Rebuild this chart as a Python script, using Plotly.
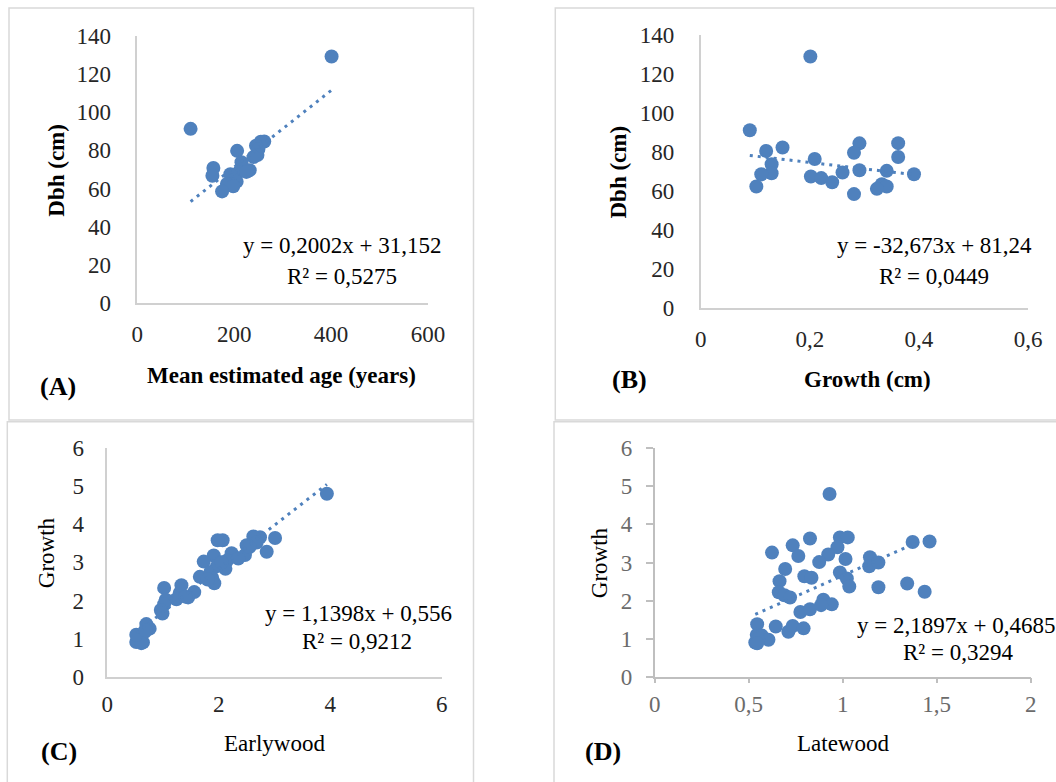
import plotly.graph_objects as go

# ---------------- data ----------------
# Panel A: Dbh vs mean estimated age
age_A = [401, 110, 262, 255, 245, 250, 206, 248, 240, 215, 157, 220, 232, 228,
         210, 225, 192, 155, 200, 205, 195, 185, 198, 175]
dbh_A = [129, 91.2, 84.6, 84.5, 82.4, 80.6, 79.7, 77.5, 76.5, 73.8, 70.7, 70.4,
         69.6, 69.2, 68.7, 68.7, 67.5, 66.7, 64.6, 63.6, 62.4, 62.4, 61.2, 58.5]

# Panel B: Dbh vs growth (cm)
growth_B = [0.201, 0.090, 0.362, 0.291, 0.150, 0.120, 0.281, 0.362, 0.209, 0.130,
            0.341, 0.291, 0.260, 0.130, 0.111, 0.391, 0.202, 0.221, 0.241, 0.332,
            0.102, 0.341, 0.323, 0.281]
dbh_B = [129, 91.2, 84.6, 84.5, 82.4, 80.6, 79.7, 77.5, 76.5, 73.8, 70.4, 70.7,
         69.6, 69.2, 68.7, 68.7, 67.5, 66.7, 64.6, 63.6, 62.4, 62.4, 61.2, 58.5]

# Panel C: growth vs earlywood
early_C = [3.94, 3.01, 2.86, 2.74, 2.62, 2.68, 2.50, 2.47, 2.23, 2.15, 2.12, 2.07,
           1.98, 1.91, 1.97, 1.92, 1.88, 1.73, 1.66, 1.85, 1.56, 1.45, 1.30, 1.33,
           1.24, 1.02, 1.05, 1.02, 0.96, 0.99, 0.70, 0.76, 0.67, 0.55, 0.52, 0.64,
           0.61, 0.52, 2.35, 2.00, 2.55, 1.80, 2.05, 1.40, 0.68]
growth_C = [4.80, 3.64, 3.28, 3.66, 3.68, 3.52, 3.45, 3.19, 3.24, 3.05, 2.83, 3.58,
            3.58, 3.18, 2.90, 2.45, 2.60, 3.02, 2.62, 2.75, 2.22, 2.08, 2.20, 2.40,
            2.03, 2.33, 2.02, 1.90, 1.75, 1.66, 1.38, 1.26, 1.17, 1.04, 0.91, 0.90,
            0.88, 1.10, 3.10, 2.95, 3.40, 2.55, 3.00, 2.10, 1.22]

# Panel D: growth vs latewood
late_D = [0.930, 0.826, 0.734, 0.764, 0.624, 0.985, 1.027, 0.972, 0.923, 0.875,
          1.015, 0.694, 0.796, 0.834, 0.985, 1.022, 1.035, 0.664, 0.660, 0.690,
          0.720, 0.775, 0.826, 0.897, 0.942, 0.885, 1.145, 1.141, 1.190, 1.190,
          1.372, 1.462, 1.343, 1.436, 0.545, 0.543, 0.535, 0.570, 0.605, 0.644,
          0.711, 0.734, 0.792, 0.550, 0.545]
growth_D = [4.80, 3.63, 3.45, 3.17, 3.26, 3.66, 3.66, 3.40, 3.21, 3.01,
            3.09, 2.83, 2.64, 2.60, 2.74, 2.58, 2.37, 2.51, 2.22, 2.14,
            2.08, 1.70, 1.77, 2.02, 1.90, 1.88, 3.14, 2.90, 3.00, 2.35,
            3.54, 3.55, 2.45, 2.23, 1.38, 1.10, 0.90, 1.08, 0.97, 1.32,
            1.18, 1.33, 1.27, 1.00, 0.88]

# Trend-line coefficients as printed on the chart
slopes = [0.2002, -32.673, 1.1398, 2.1897]
intercepts = [31.152, 81.24, 0.556, 0.4685]
eq_texts = ["y = 0,2002x + 31,152", "y = -32,673x + 81,24",
            "y = 1,1398x + 0,556", "y = 2,1897x + 0,4685"]
r2_texts = ["R² = 0,5275", "R² = 0,0449", "R² = 0,9212", "R² = 0,3294"]

x_titles = ["Mean estimated age (years)", "Growth (cm)", "Earlywood", "Latewood"]
y_titles = ["Dbh (cm)", "Dbh (cm)", "Growth", "Growth"]
panel_tags = ["(A)", "(B)", "(C)", "(D)"]

x_ranges = [[0, 600], [0, 0.6], [0, 6], [0, 2]]
x_dticks = [200, 0.2, 2, 0.5]
y_ranges = [[0, 140], [0, 140], [0, 6], [0, 6]]
y_dticks = [20, 20, 1, 1]

# ---------------- layout helpers ----------------
W, H = 1056, 782
FONT = "Liberation Serif"
BLUE = "#4f81bd"


def px(x):
    return x / W


def py(y):
    return 1 - y / H


# plot-area geometry (pixels): x0, x1, y_bottom, y_top
geo = [
    (137.3, 428.0, 303.3, 35.5),
    (700.7, 1028.0, 308.3, 35.0),
    (107.3, 441.7, 676.7, 448.0),
    (654.7, 1030.7, 676.7, 448.3),
]
x_standoff = [9, 9, 6, 1]
y_standoff = [20, 20, 17, 9]

xs = [age_A, growth_B, early_C, late_D]
ys = [dbh_A, dbh_B, growth_C, growth_D]

fig = go.Figure()

for i in range(4):
    ax = "" if i == 0 else str(i + 1)
    xa, ya = "x" + ax, "y" + ax
    fig.add_trace(go.Scatter(
        x=xs[i], y=ys[i], mode="markers", xaxis=xa, yaxis=ya,
        marker=dict(color=BLUE, size=14, line=dict(width=0)),
        showlegend=False, hoverinfo="skip"))
    lo, hi = min(xs[i]), max(xs[i])
    fig.add_trace(go.Scatter(
        x=[lo, hi], y=[slopes[i] * lo + intercepts[i], slopes[i] * hi + intercepts[i]],
        mode="lines", xaxis=xa, yaxis=ya,
        line=dict(color=BLUE, width=3, dash="3px,5px"),
        showlegend=False, hoverinfo="skip"))

    x0, x1, yb, yt = geo[i]
    is_d = (i == 3)
    tickcol = "#6b6b6b" if is_d else "#262626"
    linecol = "#bfbfbf" if is_d else "#d0d0d0"
    xaxis = dict(
        domain=[px(x0), px(x1)], range=x_ranges[i], dtick=x_dticks[i], tick0=0,
        anchor=ya, showgrid=False, zeroline=False, showline=True,
        linecolor=linecol, linewidth=1.5,
        ticks="outside" if is_d else "", ticklen=5, tickcolor=linecol, tickwidth=1.5,
        ticklabelstandoff=x_standoff[i],
        tickfont=dict(family=FONT, size=23, color=tickcol), fixedrange=True)
    yaxis = dict(
        domain=[py(yb), py(yt)], range=y_ranges[i], dtick=y_dticks[i], tick0=0,
        anchor=xa, showgrid=False, zeroline=False, showline=True,
        linecolor=linecol, linewidth=1.5,
        ticks="outside" if is_d else "", ticklen=7, tickcolor=linecol, tickwidth=1.5,
        ticklabelstandoff=y_standoff[i],
        tickfont=dict(family=FONT, size=23, color=tickcol), fixedrange=True)
    fig.update_layout(**{"xaxis" + ax: xaxis, "yaxis" + ax: yaxis})

# ---------------- text annotations ----------------
ann = []


def add_text(text, x, y, size=23, bold=False, angle=0, color="#000000"):
    ann.append(dict(
        text=("<b>%s</b>" % text) if bold else text,
        x=px(x), y=py(y), xref="paper", yref="paper",
        xanchor="center", yanchor="middle", showarrow=False, textangle=angle,
        font=dict(family=FONT, size=size, color=color)))


ytitle_pos = [(56.7, 170), (618, 172.5), (46.7, 552.5), (599.7, 562.5)]
xtitle_pos = [(281.7, 375), (867, 380), (274, 743.3), (843, 743.3)]
tag_pos = [(57.7, 386.7), (629.5, 380), (59, 751.7), (602.7, 751.7)]
eq_pos = [(341.7, 245), (934.5, 245.7), (358, 613.3), (956, 625)]
r2_pos = [(341.7, 276), (934, 276), (357, 641.7), (958, 652.7)]
bold_titles = [True, True, False, False]

for i in range(4):
    add_text(y_titles[i], *ytitle_pos[i], size=23, bold=bold_titles[i], angle=-90)
    add_text(x_titles[i], *xtitle_pos[i], size=23, bold=bold_titles[i])
    add_text(panel_tags[i], *tag_pos[i], size=26, bold=True)
    add_text(eq_texts[i], *eq_pos[i], size=23)
    add_text(r2_texts[i], *r2_pos[i], size=23)

# ---------------- panel borders ----------------
borders = [(9, 8, 473.5, 420), (555.3, 8, 1070, 420),
           (7.3, 421.7, 473.5, 800), (554, 421.7, 1070, 800)]
shapes = []
for (a, b, c, d) in borders:
    shapes.append(dict(type="rect", xref="paper", yref="paper",
                       x0=px(a), x1=px(c), y0=py(d), y1=py(b),
                       line=dict(color="#d9d9d9", width=1.5), layer="below"))

fig.update_layout(
    width=W, height=H,
    margin=dict(l=0, r=0, t=0, b=0, pad=0, autoexpand=False),
    paper_bgcolor="white", plot_bgcolor="white",
    separators=",.", annotations=ann, shapes=shapes,
    font=dict(family=FONT, color="#000000"))

fig.write_html(
    "out.html",
    config={"displayModeBar": False},
    post_script="document.body.style.margin='0';document.body.style.overflow='hidden';",
)
